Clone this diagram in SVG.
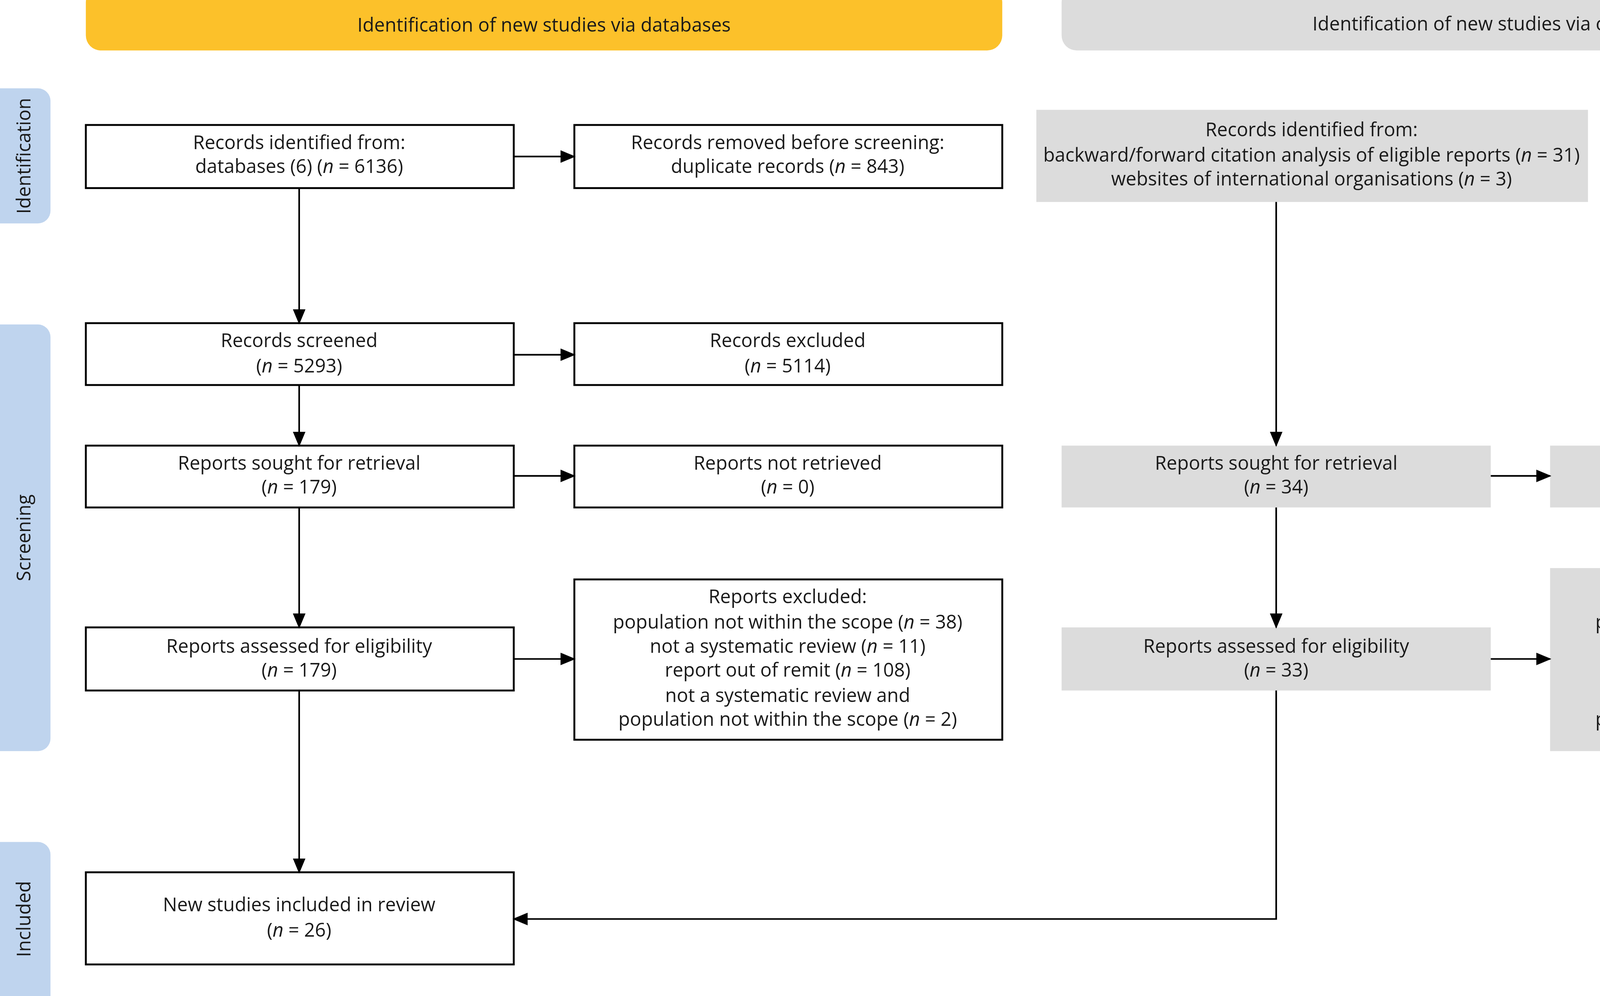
<svg xmlns="http://www.w3.org/2000/svg" width="5067" height="2551" viewBox="0 0 5067 2551">
<style>
text{font-family:"Open Sans","Liberation Sans",sans-serif;font-size:15px;fill:#1a1a1a;text-anchor:middle}
.b{fill:#fff;stroke:#000;stroke-width:1.5}
.g{fill:#dcdcdc}
.s{fill:#bfd4ee}
.l{fill:none;stroke:#000;stroke-width:1.3}
.i{font-style:italic}
</style>
<defs><marker id="a" markerUnits="userSpaceOnUse" markerWidth="12" markerHeight="10" refX="11" refY="5" orient="auto"><path d="M0,0L12,5L0,10z" fill="#000"/></marker></defs>
<rect width="5067" height="2551" fill="#fff"/>
<g transform="scale(3.2315,3.2332)">
<g id="h1"><rect x="68" y="-10" width="726" height="50" rx="12" fill="#fcc12a"/><text x="431" y="25">Identification of new studies via databases</text></g>
<g id="h2"><rect x="841" y="-10" width="727" height="50" rx="12" fill="#dcdcdc"/><text x="1204" y="24">Identification of new studies via other methods</text></g>
<g id="s1"><rect class="s" x="-10" y="70" width="50" height="107" rx="10"/><text transform="translate(24,123.5) rotate(-90)">Identification</text></g>
<g id="s2"><rect class="s" x="-10" y="257" width="50" height="338" rx="10"/><text transform="translate(24,426) rotate(-90)">Screening</text></g>
<g id="s3"><rect class="s" x="-10" y="667" width="50" height="132" rx="10"/><text transform="translate(24,728) rotate(-90)">Included</text></g>
<g id="A"><rect class="b" x="68" y="99" width="339" height="50"/><text x="237" y="118">Records identified from:</text><text x="237" y="137">databases (6) (<tspan class="i">n</tspan> = 6136)</text></g>
<g id="B"><rect class="b" x="455" y="99" width="339" height="50"/><text x="624" y="118">Records removed before screening:</text><text x="624" y="137">duplicate records (<tspan class="i">n</tspan> = 843)</text></g>
<g id="C"><rect class="g" x="821" y="87" width="437" height="73"/><text x="1039" y="108">Records identified from:</text><text x="1039" y="128">backward/forward citation analysis of eligible reports (<tspan class="i">n</tspan> = 31)</text><text x="1039" y="147">websites of international organisations (<tspan class="i">n</tspan> = 3)</text></g>
<g id="D"><rect class="b" x="68" y="256" width="339" height="49"/><text x="237" y="275">Records screened</text><text x="237" y="295">(<tspan class="i">n</tspan> = 5293)</text></g>
<g id="E"><rect class="b" x="455" y="256" width="339" height="49"/><text x="624" y="275">Records excluded</text><text x="624" y="295">(<tspan class="i">n</tspan> = 5114)</text></g>
<g id="F"><rect class="b" x="68" y="353" width="339" height="49"/><text x="237" y="372">Reports sought for retrieval</text><text x="237" y="391">(<tspan class="i">n</tspan> = 179)</text></g>
<g id="G"><rect class="b" x="455" y="353" width="339" height="49"/><text x="624" y="372">Reports not retrieved</text><text x="624" y="391">(<tspan class="i">n</tspan> = 0)</text></g>
<g id="H"><rect class="g" x="841" y="353" width="340" height="49"/><text x="1011" y="372">Reports sought for retrieval</text><text x="1011" y="391">(<tspan class="i">n</tspan> = 34)</text></g>
<g id="I"><rect class="g" x="1228" y="353" width="340" height="49"/><text x="1398" y="372">Reports not retrieved</text><text x="1398" y="391">(<tspan class="i">n</tspan> = 1)</text></g>
<g id="J"><rect class="b" x="68" y="497" width="339" height="50"/><text x="237" y="517">Reports assessed for eligibility</text><text x="237" y="536">(<tspan class="i">n</tspan> = 179)</text></g>
<g id="K"><rect class="b" x="455" y="459" width="339" height="127"/><text x="624" y="478">Reports excluded:</text><text x="624" y="498">population not within the scope (<tspan class="i">n</tspan> = 38)</text><text x="624" y="517">not a systematic review (<tspan class="i">n</tspan> = 11)</text><text x="624" y="536">report out of remit (<tspan class="i">n</tspan> = 108)</text><text x="624" y="556">not a systematic review and</text><text x="624" y="575">population not within the scope (<tspan class="i">n</tspan> = 2)</text></g>
<g id="L"><rect class="g" x="841" y="497" width="340" height="50"/><text x="1011" y="517">Reports assessed for eligibility</text><text x="1011" y="536">(<tspan class="i">n</tspan> = 33)</text></g>
<g id="M"><rect class="g" x="1228" y="450" width="340" height="145"/><text x="1398" y="478">Reports excluded:</text><text x="1398" y="498">population not within the scope (<tspan class="i">n</tspan> = 6)</text><text x="1398" y="517">not a systematic review (<tspan class="i">n</tspan> = 18)</text><text x="1398" y="536">report out of remit (<tspan class="i">n</tspan> = 2)</text><text x="1398" y="556">not a systematic review and</text><text x="1398" y="575">population not within the scope (<tspan class="i">n</tspan> = 1)</text></g>
<g id="N"><rect class="b" x="68" y="691" width="339" height="73"/><text x="237" y="722">New studies included in review</text><text x="237" y="742">(<tspan class="i">n</tspan> = 26)</text></g>
<g id="connectors">
<path class="l" marker-end="url(#a)" d="M407,124H455"/>
<path class="l" marker-end="url(#a)" d="M407,281H455"/>
<path class="l" marker-end="url(#a)" d="M407,377H455"/>
<path class="l" marker-end="url(#a)" d="M407,522H455"/>
<path class="l" marker-end="url(#a)" d="M1181,377H1228"/>
<path class="l" marker-end="url(#a)" d="M1181,522H1228"/>
<path class="l" marker-end="url(#a)" d="M237,149V256"/>
<path class="l" marker-end="url(#a)" d="M237,305V353"/>
<path class="l" marker-end="url(#a)" d="M237,402V497"/>
<path class="l" marker-end="url(#a)" d="M237,547V691"/>
<path class="l" marker-end="url(#a)" d="M1011,160V353"/>
<path class="l" marker-end="url(#a)" d="M1011,402V497"/>
<path class="l" marker-end="url(#a)" d="M1011,547V728H407"/>
</g>
</g>
</svg>
